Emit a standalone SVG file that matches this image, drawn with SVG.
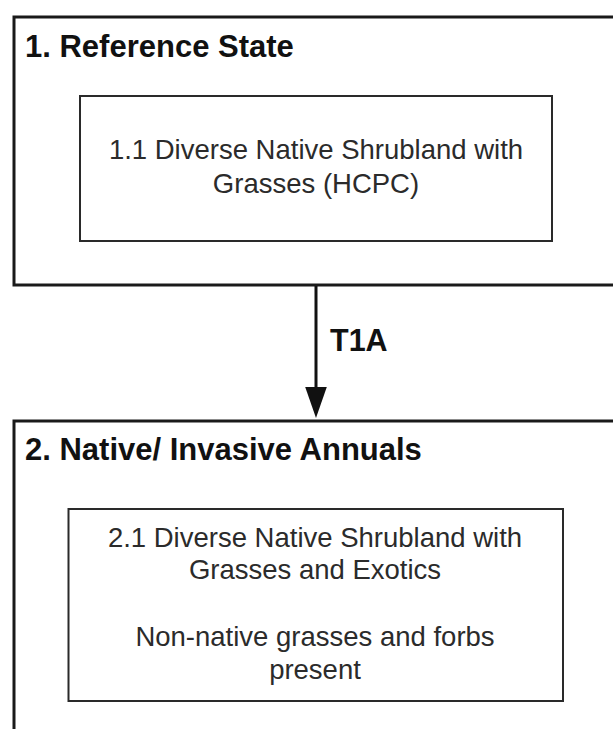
<svg xmlns="http://www.w3.org/2000/svg" width="613" height="729" viewBox="0 0 613 729">
<defs>
<style>
.state{fill:#fff;stroke:#1a1a1a;stroke-width:3}
.phase{fill:#fff;stroke:#2a2a2a;stroke-width:2}
.title{font-family:"Liberation Sans",Arial,sans-serif;font-weight:bold;font-size:31px;fill:#111}
.body{font-family:"Liberation Sans",Arial,sans-serif;font-size:27.5px;fill:#2b2b2b;text-anchor:middle}
.lbl{font-family:"Liberation Sans",Arial,sans-serif;font-weight:bold;font-size:30.5px;fill:#111}
.conn{stroke:#111;stroke-width:3;fill:none}
</style>
<marker id="arrow" markerUnits="userSpaceOnUse" markerWidth="32" markerHeight="23" refX="13" refY="10.8" orient="auto" viewBox="0 0 32 23">
<path d="M0,0 L31,10.8 L0,21.6 Z" fill="#111"/>
</marker>
</defs>
<rect width="613" height="729" fill="#fff"/>
<g id="state1">
<rect class="state" x="14" y="17" width="620" height="268"/>
<text class="title" x="25" y="57">1. Reference State</text>
</g>
<g id="phase1_1">
<rect class="phase" x="80" y="96" width="472" height="145"/>
<text class="body" x="316" y="159">1.1 Diverse Native Shrubland with</text>
<text class="body" x="316" y="193">Grasses (HCPC)</text>
</g>
<g id="state2">
<rect class="state" x="14" y="421" width="620" height="340"/>
<text class="title" x="25" y="460">2. Native/ Invasive Annuals</text>
</g>
<g id="phase2_1">
<rect class="phase" x="68.5" y="509" width="494.5" height="192"/>
<text class="body" x="315" y="547">2.1 Diverse Native Shrubland with</text>
<text class="body" x="315" y="579">Grasses and Exotics</text>
<text class="body" x="315" y="646">Non-native grasses and forbs</text>
<text class="body" x="315" y="679">present</text>
</g>
<g id="connectors">
<line class="conn" x1="316" y1="286" x2="316" y2="400" marker-end="url(#arrow)"/>
<text class="lbl" x="330" y="351">T1A</text>
</g>
</svg>
